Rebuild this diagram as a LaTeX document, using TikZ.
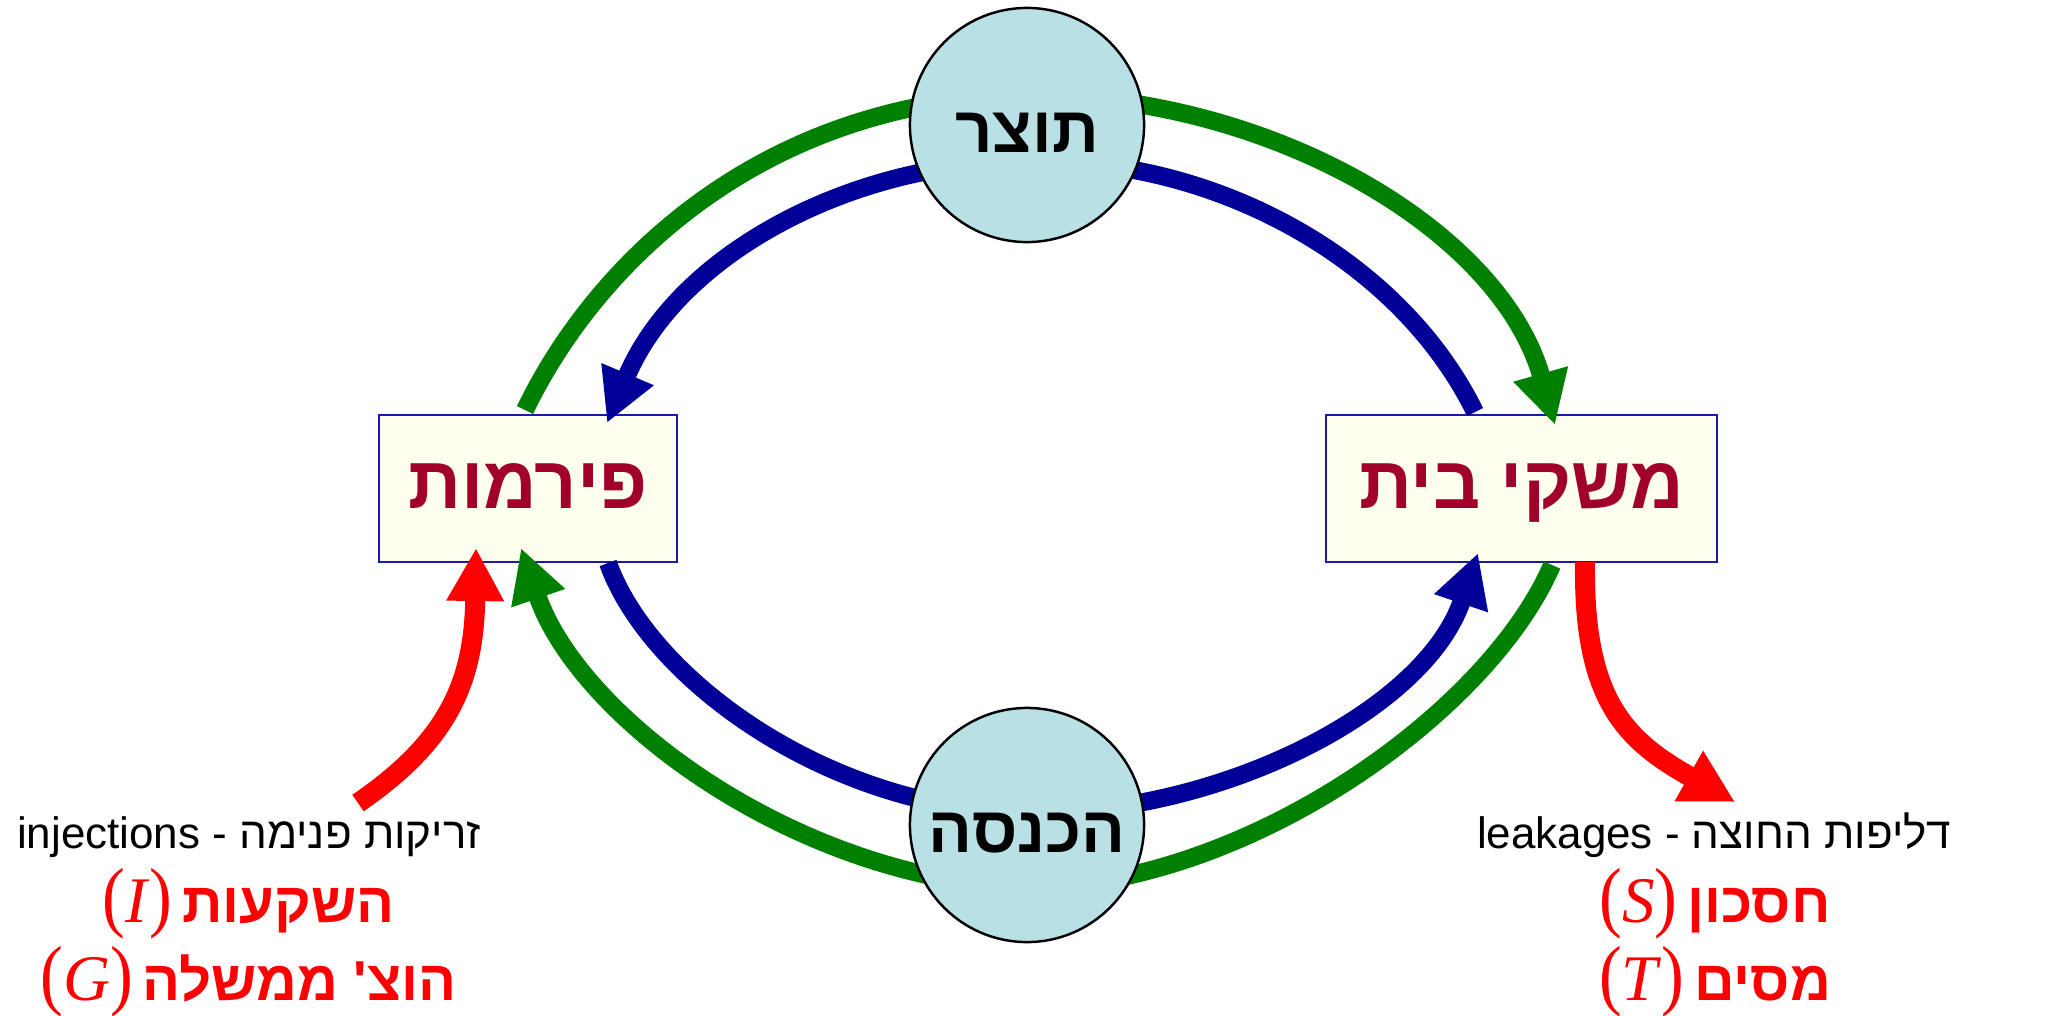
\documentclass[tikz,border=0pt]{standalone}
\usepackage{fontspec}
\usepackage{graphicx}
\setmainfont{Liberation Sans}
\newfontfamily\heb[Script=Hebrew,Ligatures=TeXOff]{Liberation Sans}
\newfontfamily\tms{Liberation Serif}
\TeXXeTstate=1
\usetikzlibrary{arrows.meta}
\definecolor{flowgreen}{HTML}{008000}
\definecolor{flowblue}{HTML}{000099}
\definecolor{flowred}{HTML}{FF0000}
\definecolor{circfill}{HTML}{B9E0E4}
\definecolor{boxfill}{HTML}{FFFFF0}
\definecolor{boxline}{HTML}{1A1AA6}
\definecolor{boxtext}{HTML}{A0002A}
\newcommand{\parenf}{\tms\fontsize{18.5}{22}\selectfont}
\newcommand{\hebred}{\heb\bfseries\fontsize{16}{19}\selectfont}
\newcommand{\lpar}{\scalebox{1.05}[1.2]{(}}
\newcommand{\rpar}{\scalebox{1.05}[1.2]{)}}
\newcommand{\mathlbl}[1]{{\parenf\lpar\textit{#1}\rpar}}
\begin{document}
\begin{tikzpicture}[x=0.01cm,y=-0.01cm,
  sector/.style={draw=boxline, line width=0.7pt, fill=boxfill, minimum height=1.47cm,
    inner sep=0pt, text=boxtext, text height=0.40cm, text depth=0cm,
    font=\heb\bfseries\fontsize{21}{25}\selectfont},
  hub/.style={circle, draw=black, line width=0.7pt, fill=circfill, minimum size=2.34cm,
    inner sep=0pt, text height=0.54cm, text depth=0cm,
    font=\heb\bfseries\fontsize{18.5}{22}\selectfont},
  flowline/.style={line width=0.18cm, line join=round},
  flowarrow/.style={flowline, -{Triangle[length=0.53cm,width=0.53cm]}},
  redarrow/.style={line width=0.2cm, line join=round, draw=flowred, -{Triangle[length=0.53cm,width=0.54cm]}},
  blacklbl/.style={anchor=base, font=\fontsize{12.5}{15}\selectfont},
  redlbl/.style={anchor=base, text=flowred}
]
\useasboundingbox (0,0) rectangle (2046,1015);

% boxes
\node[sector, minimum width=2.98cm] (firms) at (528,488.5) {\beginR פירמות\endR};
\node[sector, minimum width=3.91cm] (house) at (1521.5,488.5) {\beginR משקי בית\endR};

% end points and hidden turning points (behind the circles)
\coordinate (gA) at (525,410);
\coordinate (gtop) at (1027,95);
\coordinate (gB) at (1555,425);
\coordinate (bA) at (1475,412);
\coordinate (btop) at (1027,162);
\coordinate (bB) at (607,423);
\coordinate (bC) at (608,563);
\coordinate (bbot) at (1027,813);
\coordinate (bD) at (1478,553);
\coordinate (gC) at (1552,565);
\coordinate (gbot) at (1027,888);
\coordinate (gD) at (521,548);
\coordinate (rA) at (358,803);
\coordinate (rB) at (476,548);
\coordinate (rC) at (1585,562);
\coordinate (rD) at (1735,802);

% flows
\draw[flowarrow, draw=flowgreen] (gA) .. controls (600,255) and (770,100) .. (gtop)
  .. controls (1270,95) and (1500,230) .. (gB);
\draw[flowarrow, draw=flowblue] (bA) .. controls (1395,250) and (1200,155) .. (btop)
  .. controls (860,160) and (680,250) .. (bB);
\draw[flowarrow, draw=flowblue] (bC) .. controls (650,680) and (830,810) .. (bbot)
  .. controls (1220,815) and (1425,710) .. (bD);
\draw[flowarrow, draw=flowgreen] (gC) .. controls (1490,710) and (1250,885) .. (gbot)
  .. controls (800,880) and (580,720) .. (gD);
\draw[redarrow] (rA) .. controls (450,740) and (474,680) .. (rB);
\draw[redarrow] (rC) .. controls (1583,700) and (1625,740) .. (rD);

% circles
\node[hub] (output) at (1027,125) {\beginR תוצר\endR};
\node[hub] (income) at (1027,825) {\beginR הכנסה\endR};

% labels left
\node[blacklbl] (injlbl) at (249,848) {injections - {\heb\beginR זריקות פנימה\endR}};
\node[redlbl] (invlbl) at (248.5,922) {\mathlbl{I} {\hebred\beginR השקעות\endR}};
\node[redlbl] (govlbl) at (248.5,1000) {\mathlbl{G} {\hebred\beginR הוצ' ממשלה\endR}};

% labels right
\node[blacklbl] (leaklbl) at (1714,848) {leakages - {\heb\beginR דליפות החוצה\endR}};
\node[redlbl] (savlbl) at (1715,922) {\mathlbl{S} {\hebred\beginR חסכון\endR}};
\node[redlbl] (taxlbl) at (1715,1000) {\mathlbl{T} {\hebred\beginR מסים\endR}};
\end{tikzpicture}
\end{document}
